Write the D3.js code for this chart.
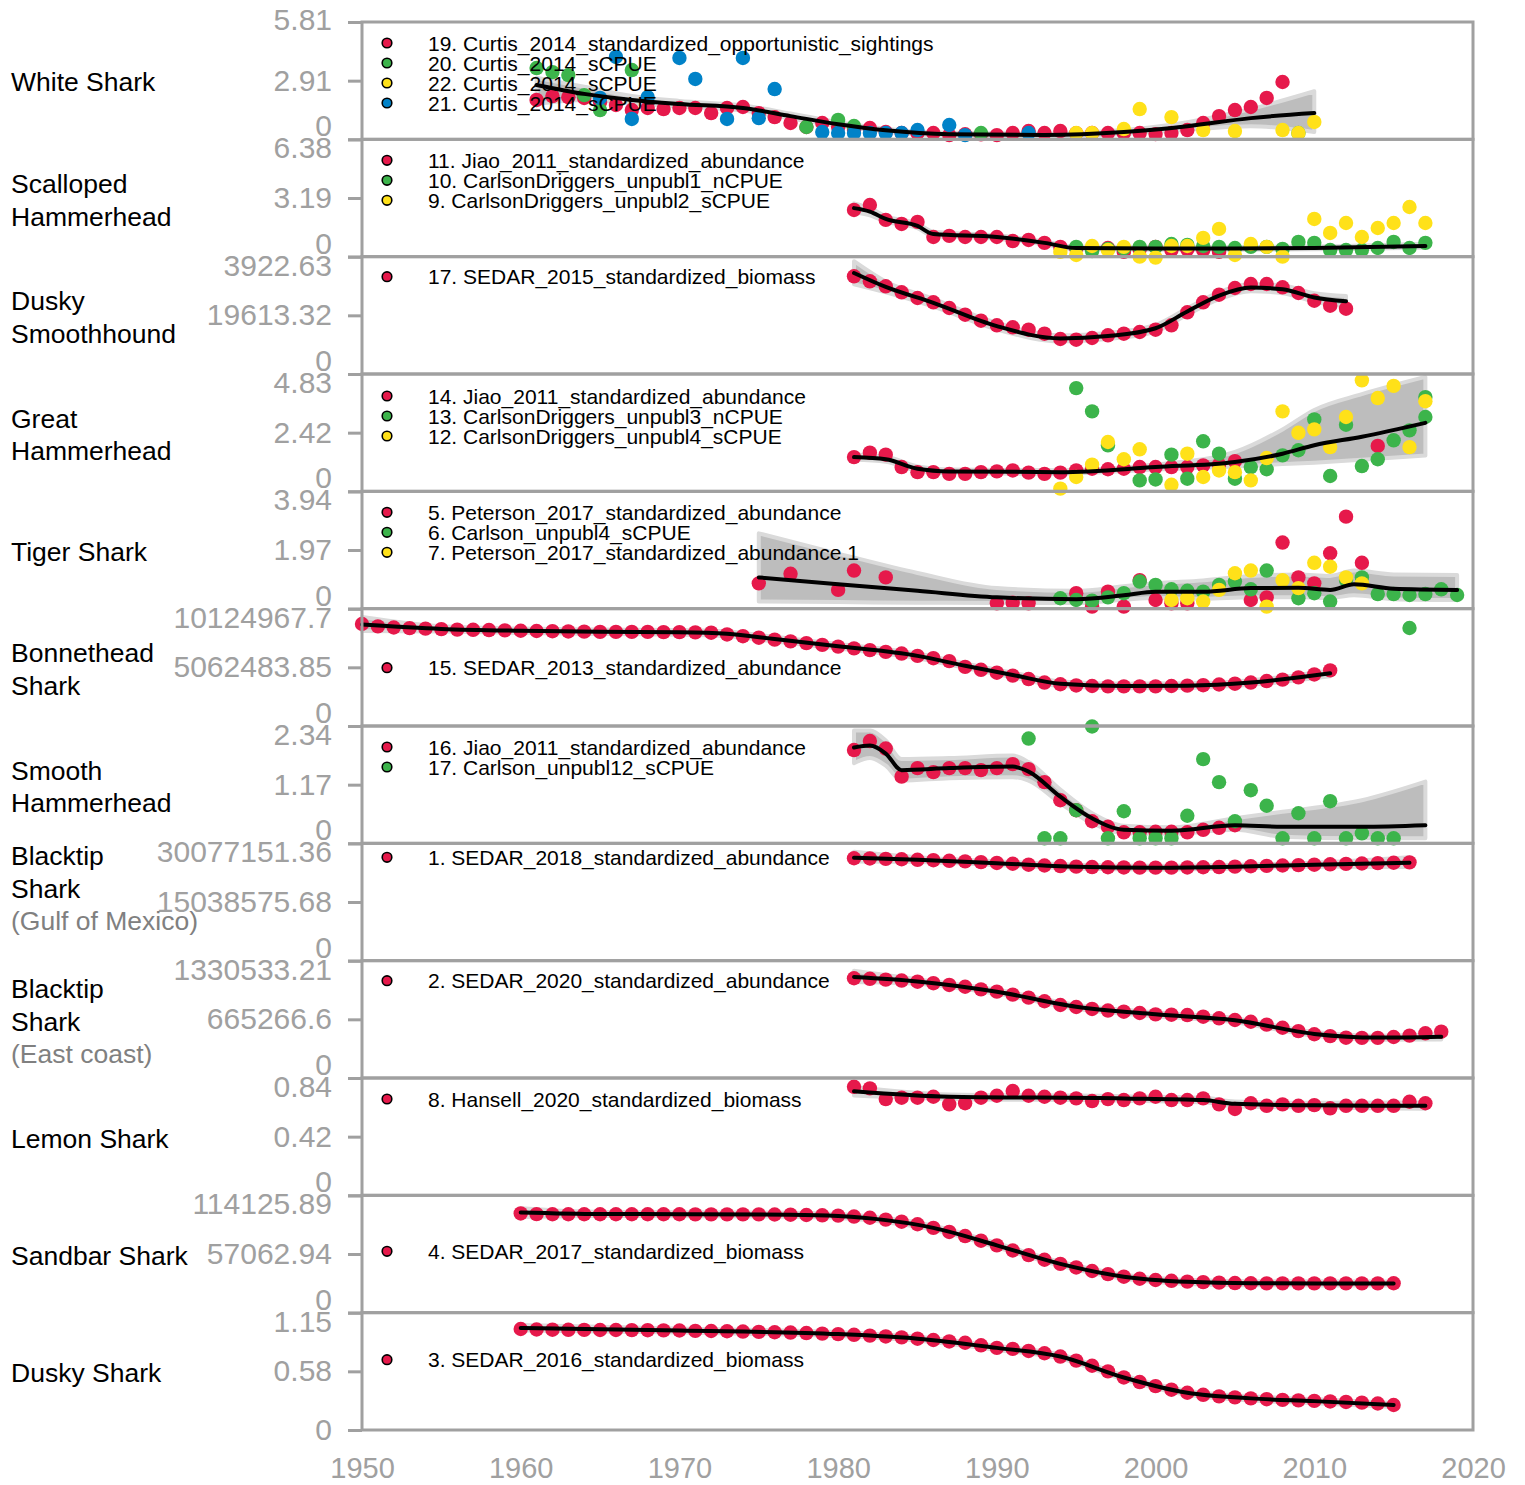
<!DOCTYPE html>
<html>
<head>
<meta charset="utf-8">
<script src="https://cdn.jsdelivr.net/npm/d3@7"></script>
<style>
  body { margin: 0; background: #fff; }
  svg { font-family: "Liberation Sans", Arial, sans-serif; }
</style>
</head>
<body>
<div id="chart"></div>
<script>
// ---------- data ----------
const RED = '#e6194b', GREEN = '#3cb44b', YELLOW = '#ffe119', BLUE = '#0082c8';
const yearTicks = [1950, 1960, 1970, 1980, 1990, 2000, 2010, 2020];

// helper: consecutive yearly values -> [year, value]
const byYear = (start, values) => values.map((v, i) => [start + i, v]);

// White Shark
const whiteRed = [[1961,1.95],[1962,2.14],[1963,2.09],[1964,2.05],[1965,1.85],[1966,1.70],[1967,1.45],[1968,1.55],[1969,1.50],[1970,1.55],[1971,1.55],[1972,1.30],[1973,1.55],[1974,1.60],[1975,1.30],[1976,1.10],[1977,0.81],[1978,0.61],[1979,0.81],[1980,0.61],[1981,0.46],[1982,0.56],[1983,0.36],[1984,0.31],[1985,0.31],[1986,0.31],[1987,0.21],[1988,0.25],[1989,0.25],[1990,0.21],[1991,0.31],[1992,0.41],[1993,0.31],[1994,0.41],[1995,0.30],[1996,0.31],[1997,0.31],[1998,0.30],[1999,0.31],[2000,0.26],[2001,0.31],[2002,0.46],[2003,0.81],[2004,1.15],[2005,1.45],[2006,1.60],[2007,2.05],[2008,2.84]];
const whiteGreen = [[1961,3.53],[1962,3.33],[1963,3.18],[1964,2.19],[1965,1.45],[1967,3.43],[1978,0.61],[1980,0.96],[1981,0.66],[1989,0.31],[2009,0.31]];
const whiteYellow = [[1995,0.31],[1996,0.31],[1998,0.51],[1999,1.50],[2001,1.10],[2003,0.46],[2005,0.41],[2008,0.46],[2009,0.31],[2010,0.86]];
const whiteBlue = [[1965,2.05],[1966,4.08],[1967,1.01],[1968,2.09],[1970,4.03],[1971,2.99],[1973,1.01],[1974,4.03],[1975,1.05],[1976,2.49],[1979,0.36],[1980,0.31],[1981,0.31],[1982,0.31],[1983,0.31],[1984,0.31],[1985,0.46],[1987,0.71],[1988,0.21],[1992,0.31]];
// trend: [year, fit, lower, upper]
const whiteTrend = [[1961,2.69,1.75,3.05],[1964,2.25,1.95,2.6],[1967,1.95,1.78,2.15],[1970,1.75,1.62,1.9],[1974,1.55,1.43,1.68],[1977,1.15,1.03,1.28],[1980,0.75,0.66,0.85],[1983,0.45,0.38,0.53],[1987,0.25,0.19,0.32],[1993,0.21,0.15,0.28],[1998,0.36,0.27,0.46],[2002,0.65,0.48,0.85],[2006,1.05,0.65,1.5],[2010,1.30,0.36,2.38]];

// Scalloped Hammerhead
const scallopedRed = [[1981,2.54],[1982,2.81],[1983,2.00],[1984,1.78],[1985,1.89],[1986,1.07],[1987,1.13],[1988,1.07],[1989,1.07],[1990,1.07],[1991,0.85],[1992,0.91],[1993,0.75],[1994,0.53],[1995,0.45],[1996,0.42],[1997,0.47],[1998,0.26],[1999,0.40],[2000,0.53],[2001,0.36],[2002,0.40],[2003,0.36],[2004,0.26]];
const scallopedGreen = [[1995,0.53],[1996,0.31],[1997,0.42],[1998,0.45],[1999,0.53],[2000,0.53],[2001,0.69],[2002,0.64],[2003,0.58],[2004,0.53],[2005,0.47],[2006,0.53],[2007,0.53],[2008,0.42],[2009,0.80],[2010,0.75],[2011,0.36],[2012,0.36],[2013,0.36],[2014,0.47],[2015,0.80],[2016,0.47],[2017,0.75]];
const scallopedYellow = [[1994,0.26],[1995,0.09],[1996,0.58],[1997,0.36],[1998,0.53],[1999,0.0],[2000,-0.05],[2001,0.58],[2002,0.58],[2003,1.02],[2004,1.51],[2005,0.09],[2006,0.69],[2007,0.53],[2008,0.0],[2010,2.05],[2011,1.29],[2012,1.83],[2013,1.07],[2014,1.56],[2015,1.83],[2016,2.70],[2017,1.83]];
const scallopedTrend = [[1981,2.64,2.4,2.9],[1982,2.45,2.25,2.65],[1983,2.05,1.9,2.2],[1985,1.67,1.55,1.8],[1986,1.23,1.12,1.35],[1990,1.07,0.98,1.16],[1993,0.75,0.67,0.83],[1995,0.47,0.4,0.55],[2000,0.45,0.38,0.52],[2005,0.45,0.38,0.52],[2010,0.47,0.4,0.55],[2017,0.58,0.48,0.7]];

// Dusky Smoothhound
const smoothhoundRed = byYear(1981, [32660,30990,29320,27310,25410,23970,22060,19820,17820,16280,15610,14810,13470,11700,11470,12030,12940,13470,14040,14810,16280,20630,23970,26510,28750,30090,30090,28980,27080,24500,22830,21830]);
const smoothhoundTrend = [[1981,33760,30000,37700],[1983,29100,27300,30900],[1986,23800,22500,25100],[1990,16000,14900,17100],[1994,11900,10900,12900],[1997,12700,11700,13700],[2000,15300,14200,16400],[2002,20900,19800,22000],[2004,26200,25000,27400],[2006,28900,27700,30100],[2008,28300,27000,29600],[2010,25600,24200,27000],[2012,24300,22500,26100]];

// Great Hammerhead
const greatRed = [...byYear(1981, [1.41,1.59,1.51,1.00,0.79,0.79,0.72,0.72,0.79,0.82,0.86,0.77,0.72,0.77,0.86,0.93,0.91,0.93,1.00,1.00,1.00,1.00,1.07,1.10,1.24]), [2014,1.87]];
const greatGreen = [[1995,4.25],[1996,3.29],[1997,1.89],[1999,0.45],[2000,0.49],[2001,1.51],[2002,0.52],[2003,2.06],[2004,1.55],[2005,0.52],[2006,1.00],[2007,0.91],[2008,1.48],[2009,1.69],[2010,2.96],[2011,0.63],[2012,2.74],[2013,1.04],[2014,1.32],[2015,2.10],[2016,2.51],[2017,3.06],[2017,3.88]];
const greatYellow = [[1994,0.11],[1995,0.59],[1996,1.10],[1997,2.03],[1998,1.32],[1999,1.73],[2001,0.27],[2002,1.55],[2003,0.59],[2004,0.86],[2005,0.79],[2006,0.45],[2007,1.37],[2008,3.29],[2009,2.41],[2010,2.55],[2011,1.82],[2012,3.06],[2013,4.57],[2014,3.84],[2015,4.34],[2016,1.82],[2017,3.71]];
const greatTrend = [[1981,1.41,1.30,1.52],[1983,1.32,1.22,1.43],[1985,0.93,0.84,1.02],[1987,0.82,0.74,0.9],[1994,0.79,0.72,0.87],[2000,1.00,0.9,1.1],[2005,1.21,1.02,1.62],[2008,1.55,1.12,2.55],[2010,1.90,1.18,3.35],[2013,2.25,1.3,4.0],[2017,2.82,1.48,4.71]];

// Tiger Shark
const tigerRed = [[1975,0.85],[1977,1.17],[1980,0.63],[1981,1.28],[1983,1.05],[1990,0.18],[1991,0.20],[1992,0.18],[1995,0.52],[1996,0.07],[1997,0.57],[1998,0.07],[1999,0.96],[2000,0.29],[2001,0.18],[2002,0.18],[2006,0.29],[2007,0.38],[2008,2.22],[2009,1.05],[2010,0.85],[2011,1.86],[2012,3.09],[2013,1.54]];
const tigerGreen = [[1994,0.35],[1995,0.29],[1996,0.27],[1997,0.38],[1998,0.52],[1999,0.91],[2000,0.80],[2001,0.65],[2002,0.60],[2003,0.57],[2004,0.80],[2005,0.91],[2006,0.65],[2007,1.28],[2009,0.35],[2010,0.52],[2011,0.24],[2012,0.96],[2013,1.05],[2014,0.49],[2015,0.49],[2016,0.46],[2016,-0.65],[2017,0.49],[2018,0.65],[2019,0.46]];
const tigerYellow = [[2001,0.29],[2002,0.35],[2003,0.24],[2004,0.63],[2005,1.19],[2006,1.28],[2007,0.07],[2008,0.96],[2009,0.69],[2010,1.54],[2011,1.41],[2012,1.05],[2013,0.85]];
const tigerTrend = [[1975,1.05,0.24,2.53],[1980,0.82,0.22,1.85],[1985,0.6,0.2,1.2],[1990,0.38,0.19,0.69],[1995,0.32,0.19,0.6],[1998,0.45,0.3,0.75],[2000,0.57,0.36,0.85],[2003,0.57,0.33,0.95],[2006,0.69,0.38,1.1],[2009,0.70,0.38,1.15],[2011,0.63,0.36,1.1],[2012.5,0.82,0.45,1.28],[2015,0.67,0.32,1.15],[2019,0.63,0.29,1.13]];

// Bonnethead Shark (millions)
const bonnetheadRed = byYear(1950, [8.80,8.60,8.50,8.45,8.40,8.36,8.32,8.30,8.28,8.25, 8.22,8.20,8.18,8.16,8.14,8.12,8.12,8.12,8.12,8.10, 8.10,8.08,8.05,7.90,7.75,7.62,7.45,7.30,7.15,7.00, 6.85,6.70,6.55,6.40,6.25,6.05,5.85,5.60,5.10,4.85, 4.60,4.35,4.05,3.75,3.60,3.50,3.45,3.42,3.42,3.42, 3.42,3.45,3.48,3.52,3.58,3.65,3.75,3.88,4.00,4.20, 4.45,4.80]);
const bonnetheadTrend = [[1950,8.75,8.2,9.4],[1955,8.38,8.15,8.6],[1960,8.22,8.02,8.42],[1965,8.13,7.93,8.33],[1970,8.08,7.88,8.28],[1973,7.95,7.75,8.15],[1976,7.50,7.3,7.7],[1980,6.88,6.68,7.08],[1985,6.05,5.85,6.25],[1988,5.20,5.0,5.4],[1991,4.40,4.2,4.6],[1994,3.65,3.45,3.85],[1998,3.45,3.25,3.65],[2002,3.48,3.28,3.68],[2006,3.75,3.55,3.95],[2011,4.55,4.3,4.8]];

// Smooth Hammerhead
const smoothRed = byYear(1981, [1.86,2.04,1.89,1.33,1.50,1.42,1.50,1.50,1.46,1.50,1.58,1.48,1.22,0.86,0.66,0.44,0.33,0.22,0.22,0.23,0.23,0.22,0.27,0.31,0.36]);
const smoothGreen = [[1992,2.09],[1993,0.10],[1994,0.10],[1995,0.66],[1996,2.33],[1997,0.10],[1998,0.64],[1999,0.10],[2000,0.10],[2001,0.10],[2002,0.55],[2003,1.68],[2004,1.22],[2005,0.44],[2006,1.06],[2007,0.75],[2008,0.10],[2009,0.60],[2010,0.10],[2011,0.84],[2012,0.10],[2013,0.20],[2014,0.10],[2015,0.10]];
const smoothTrend = [[1981,1.91,1.6,2.25],[1982,1.95,1.7,2.25],[1983,1.79,1.55,2.05],[1984,1.46,1.25,1.68],[1987,1.50,1.3,1.7],[1991,1.53,1.32,1.75],[1992,1.43,1.25,1.62],[1994,0.93,0.8,1.07],[1996,0.50,0.4,0.6],[1998,0.27,0.2,0.35],[2001,0.25,0.19,0.32],[2005,0.36,0.27,0.5],[2008,0.33,0.13,0.63],[2013,0.33,0.10,0.86],[2017,0.36,0.10,1.23]];

// Blacktip Shark, Gulf of Mexico (millions)
const blacktipGomRed = byYear(1981, [26.25,26.2,26.1,26.0,25.85,25.75,25.6,25.45,25.25,25.05, 24.85,24.6,24.4,24.25,24.1,24.0,23.95,23.9,23.85,23.85, 23.85,23.9,23.95,24.0,24.1,24.2,24.3,24.4,24.5,24.6, 24.7,24.8,24.9,25.0,25.1,25.2]);
const blacktipGomTrend = [[1981,26.4,25.4,27.9],[1985,25.9,25.3,26.5],[1990,25.0,24.5,25.5],[1995,24.1,23.6,24.6],[2000,23.85,23.35,24.35],[2005,24.1,23.6,24.6],[2010,24.6,24.1,25.1],[2016,25.1,24.0,26.5]];

// Blacktip Shark, East coast (thousands)
const blacktipEastRed = byYear(1981, [1131,1125,1115,1105,1092,1075,1055,1035,1005,979, 945,911,870,828,805,783,765,752,737,722, 718,714,695,677,658,638,605,570,532,496, 475,457,455,455,465,480,507,525]);
const blacktipEastTrend = [[1981,1145,1090,1215],[1985,1095,1070,1120],[1990,978,955,1000],[1995,808,785,830],[2000,722,700,745],[2005,655,632,678],[2010,500,478,522],[2014,458,435,480],[2018,468,438,498]];

// Lemon Shark
const lemonRed = byYear(1981, [0.777,0.766,0.689,0.699,0.699,0.706,0.651,0.659,0.699,0.713, 0.747,0.713,0.706,0.699,0.694,0.675,0.689,0.682,0.694,0.706, 0.682,0.682,0.694,0.651,0.618,0.659,0.641,0.651,0.641,0.646, 0.623,0.641,0.641,0.641,0.641,0.670,0.659]);
const lemonTrend = [[1981,0.745,0.715,0.775],[1987,0.706,0.69,0.722],[1998,0.694,0.678,0.71],[2003,0.682,0.666,0.698],[2005,0.655,0.638,0.672],[2010,0.645,0.628,0.662],[2017,0.641,0.62,0.665]];

// Sandbar Shark (thousands)
const sandbarRed = byYear(1960, [96.5, 95.8,95.7,95.7,95.7,95.7,95.7,95.7,95.7,95.7,95.7,95.6,95.6,95.6,95.6,95.6, 95.5,95.3,95.0,94.7,94.4,93.5,92.3,90.5,88.5,86.0, 82.5,78.5,74.5,70.0,65.5,60.5,56.0,51.5,47.5,44.0, 40.5,37.5,35.0,33.0,31.8,31.0,30.2,29.7,29.2,28.8, 28.6,28.5,28.5,28.5,28.5,28.5,28.5,28.5,28.5,28.6]);
const sandbarTrend = [[1960,97.5,93.0,101.5],[1965,96.0,94.0,98.0],[1970,95.8,93.8,97.8],[1977,95.3,93.3,97.3],[1980,94.0,92.0,96.0],[1983,90.0,88.0,92.0],[1986,82.5,80.5,84.5],[1990,65.5,63.5,67.5],[1994,47.5,45.5,49.5],[1998,35.0,33.0,37.0],[2002,30.0,28.0,32.0],[2006,28.6,26.6,30.6],[2015,28.4,26.4,30.4]];

// Dusky Shark
const duskyRed = byYear(1960, [0.990,0.985,0.983,0.982,0.981,0.980,0.980,0.979,0.978,0.976, 0.975,0.972,0.970,0.968,0.965,0.962,0.958,0.955,0.950,0.945, 0.940,0.933,0.925,0.917,0.908,0.895,0.882,0.868,0.855,0.830, 0.805,0.795,0.775,0.752,0.720,0.680,0.630,0.575,0.515,0.470, 0.430,0.395,0.365,0.345,0.330,0.320,0.310,0.302,0.295,0.290, 0.285,0.280,0.275,0.268,0.260,0.245]);
const duskyTrend = [[1960,1.0,0.975,1.03],[1970,0.975,0.955,0.995],[1980,0.94,0.92,0.96],[1985,0.895,0.875,0.915],[1990,0.805,0.785,0.825],[1994,0.72,0.70,0.74],[1998,0.515,0.495,0.535],[2002,0.365,0.345,0.385],[2006,0.31,0.29,0.33],[2010,0.283,0.263,0.303],[2015,0.245,0.225,0.265]];

// ---------- panel definitions ----------
const panels = [
  { name: ['White Shark'], max: 5.81, ticks: ['0', '2.91', '5.81'], trend: whiteTrend,
    series: [
      { label: '19. Curtis_2014_standardized_opportunistic_sightings', color: RED, data: whiteRed },
      { label: '20. Curtis_2014_sCPUE', color: GREEN, data: whiteGreen },
      { label: '22. Curtis_2014_sCPUE', color: YELLOW, data: whiteYellow },
      { label: '21. Curtis_2014_sCPUE', color: BLUE, data: whiteBlue }],
    order: [0, 1, 3, 2] },
  { name: ['Scalloped', 'Hammerhead'], max: 6.38, ticks: ['0', '3.19', '6.38'], trend: scallopedTrend,
    series: [
      { label: '11. Jiao_2011_standardized_abundance', color: RED, data: scallopedRed },
      { label: '10. CarlsonDriggers_unpubl1_nCPUE', color: GREEN, data: scallopedGreen },
      { label: '9. CarlsonDriggers_unpubl2_sCPUE', color: YELLOW, data: scallopedYellow }] },
  { name: ['Dusky', 'Smoothhound'], max: 39226.63, ticks: ['0', '19613.32', '3922.63'], trend: smoothhoundTrend,
    series: [{ label: '17. SEDAR_2015_standardized_biomass', color: RED, data: smoothhoundRed }] },
  { name: ['Great', 'Hammerhead'], max: 4.83, ticks: ['0', '2.42', '4.83'], trend: greatTrend,
    series: [
      { label: '14. Jiao_2011_standardized_abundance', color: RED, data: greatRed },
      { label: '13. CarlsonDriggers_unpubl3_nCPUE', color: GREEN, data: greatGreen },
      { label: '12. CarlsonDriggers_unpubl4_sCPUE', color: YELLOW, data: greatYellow }] },
  { name: ['Tiger Shark'], max: 3.94, ticks: ['0', '1.97', '3.94'], trend: tigerTrend,
    series: [
      { label: '5. Peterson_2017_standardized_abundance', color: RED, data: tigerRed },
      { label: '6. Carlson_unpubl4_sCPUE', color: GREEN, data: tigerGreen },
      { label: '7. Peterson_2017_standardized_abundance.1', color: YELLOW, data: tigerYellow }] },
  { name: ['Bonnethead', 'Shark'], max: 10124967.7 / 1e6, ticks: ['0', '5062483.85', '10124967.7'], trend: bonnetheadTrend,
    series: [{ label: '15. SEDAR_2013_standardized_abundance', color: RED, data: bonnetheadRed }] },
  { name: ['Smooth', 'Hammerhead'], max: 2.34, ticks: ['0', '1.17', '2.34'], trend: smoothTrend,
    series: [
      { label: '16. Jiao_2011_standardized_abundance', color: RED, data: smoothRed },
      { label: '17. Carlson_unpubl12_sCPUE', color: GREEN, data: smoothGreen }] },
  { name: ['Blacktip', 'Shark', '(Gulf of Mexico)'], max: 30077151.36 / 1e6, ticks: ['0', '15038575.68', '30077151.36'], trend: blacktipGomTrend,
    series: [{ label: '1. SEDAR_2018_standardized_abundance', color: RED, data: blacktipGomRed }] },
  { name: ['Blacktip', 'Shark', '(East coast)'], max: 1330533.21 / 1e3, ticks: ['0', '665266.6', '1330533.21'], trend: blacktipEastTrend,
    series: [{ label: '2. SEDAR_2020_standardized_abundance', color: RED, data: blacktipEastRed }] },
  { name: ['Lemon Shark'], max: 0.84, ticks: ['0', '0.42', '0.84'], trend: lemonTrend,
    series: [{ label: '8. Hansell_2020_standardized_biomass', color: RED, data: lemonRed }] },
  { name: ['Sandbar Shark'], max: 114125.89 / 1e3, ticks: ['0', '57062.94', '114125.89'], trend: sandbarTrend,
    series: [{ label: '4. SEDAR_2017_standardized_biomass', color: RED, data: sandbarRed }] },
  { name: ['Dusky Shark'], max: 1.15, ticks: ['0', '0.58', '1.15'], trend: duskyTrend,
    series: [{ label: '3. SEDAR_2016_standardized_biomass', color: RED, data: duskyRed }] }
];

// layout tweaks per panel (legend first-row offset, name first-line offset)
const legendDy = [21, 21, 20, 22, 21, 59, 21, 14, 20, 21, 56, 47];
const nameDy = [1, -14, -14, -14, 2, -14, -14, -46, -30, 2, 2, 2];

// ---------- drawing ----------
(function () {
  const width = 1525, height = 1485;
  const plotLeft = 362, plotRight = 1473, plotTop = 22, plotBottom = 1430;
  const panelH = (plotBottom - plotTop) / panels.length;
  const GRAY = '#a0a0a0';

  const svg = d3.select('#chart').append('svg')
    .attr('width', width)
    .attr('height', height);

  const x = d3.scaleLinear().domain([1950, 2020]).range([plotLeft, plotRight]);

  const marks = svg.append('g');
  const frames = svg.append('g');
  const labels = svg.append('g');

  panels.forEach((p, i) => {
    const pTop = plotTop + i * panelH;
    const pBot = pTop + panelH;
    const y = d3.scaleLinear().domain([0, p.max]).range([pBot, pTop]);

    const g = marks.append('g');

    // confidence band
    const area = d3.area()
      .x(d => x(d[0]))
      .y0(d => y(d[2]))
      .y1(d => y(d[3]))
      .curve(d3.curveMonotoneX);
    g.append('path')
      .datum(p.trend)
      .attr('d', area)
      .attr('fill', '#bdbdbd')
      .attr('stroke', '#dadada')
      .attr('stroke-width', 4)
      .attr('stroke-linejoin', 'round');

    // points
    const order = p.order || p.series.map((s, k) => k);
    order.forEach(k => {
      const s = p.series[k];
      g.append('g').selectAll('circle')
        .data(s.data)
        .join('circle')
        .attr('cx', d => x(d[0]))
        .attr('cy', d => y(d[1]))
        .attr('r', 7.2)
        .attr('fill', s.color);
    });

    // fitted trend
    const line = d3.line()
      .x(d => x(d[0]))
      .y(d => y(d[1]))
      .curve(d3.curveMonotoneX);
    g.append('path')
      .datum(p.trend)
      .attr('d', line)
      .attr('fill', 'none')
      .attr('stroke', '#000')
      .attr('stroke-width', 4)
      .attr('stroke-linecap', 'round');

    // legend
    const lg = labels.append('g');
    p.series.forEach((s, k) => {
      const ly = pTop + legendDy[i] + k * 20;
      lg.append('circle')
        .attr('cx', 387).attr('cy', ly).attr('r', 4.8)
        .attr('fill', s.color).attr('stroke', '#000').attr('stroke-width', 1.6);
      lg.append('text')
        .attr('x', 428).attr('y', ly)
        .attr('dominant-baseline', 'central')
        .style('font-size', '21px')
        .attr('fill', '#000')
        .text(s.label);
    });

    // frame
    frames.append('rect')
      .attr('x', plotLeft).attr('y', pTop)
      .attr('width', plotRight - plotLeft).attr('height', panelH)
      .attr('fill', 'none').attr('stroke', GRAY).attr('stroke-width', 3);

    // y axis
    const yAxis = d3.axisLeft(y)
      .tickValues([0, p.max / 2, p.max])
      .tickFormat((d, k) => p.ticks[k])
      .tickSize(14)
      .tickPadding(16);
    const ax = frames.append('g')
      .attr('transform', `translate(${plotLeft},0)`)
      .call(yAxis);
    ax.select('.domain').remove();
    ax.selectAll('line').attr('stroke', GRAY).attr('stroke-width', 3);
    ax.selectAll('text')
      .attr('fill', GRAY)
      .style('font-size', '30px')
      .attr('font-family', '"Liberation Sans", Arial, sans-serif')
      .attr('y', (d, k) => {
        if (k === 2) return i === 0 ? -2 : 9;
        if (k === 0) return i === panels.length - 1 ? 0 : -13;
        return 0;
      });

    // species name
    const cy = (pTop + pBot) / 2;
    p.name.forEach((t, k) => {
      labels.append('text')
        .attr('x', 11)
        .attr('y', cy + nameDy[i] + k * 32.5)
        .attr('dominant-baseline', 'central')
        .style('font-size', '26.5px')
        .attr('fill', t.startsWith('(') ? '#808080' : '#000')
        .text(t);
    });
  });

  // x axis
  const xAxis = d3.axisBottom(x)
    .tickValues(yearTicks)
    .tickFormat(d3.format('d'))
    .tickSize(0)
    .tickPadding(27);
  const xa = frames.append('g')
    .attr('transform', `translate(0,${plotBottom})`)
    .call(xAxis);
  xa.select('.domain').remove();
  xa.selectAll('text')
    .attr('fill', GRAY)
    .style('font-size', '29px')
    .attr('font-family', '"Liberation Sans", Arial, sans-serif');
})();
</script>
</body>
</html>
